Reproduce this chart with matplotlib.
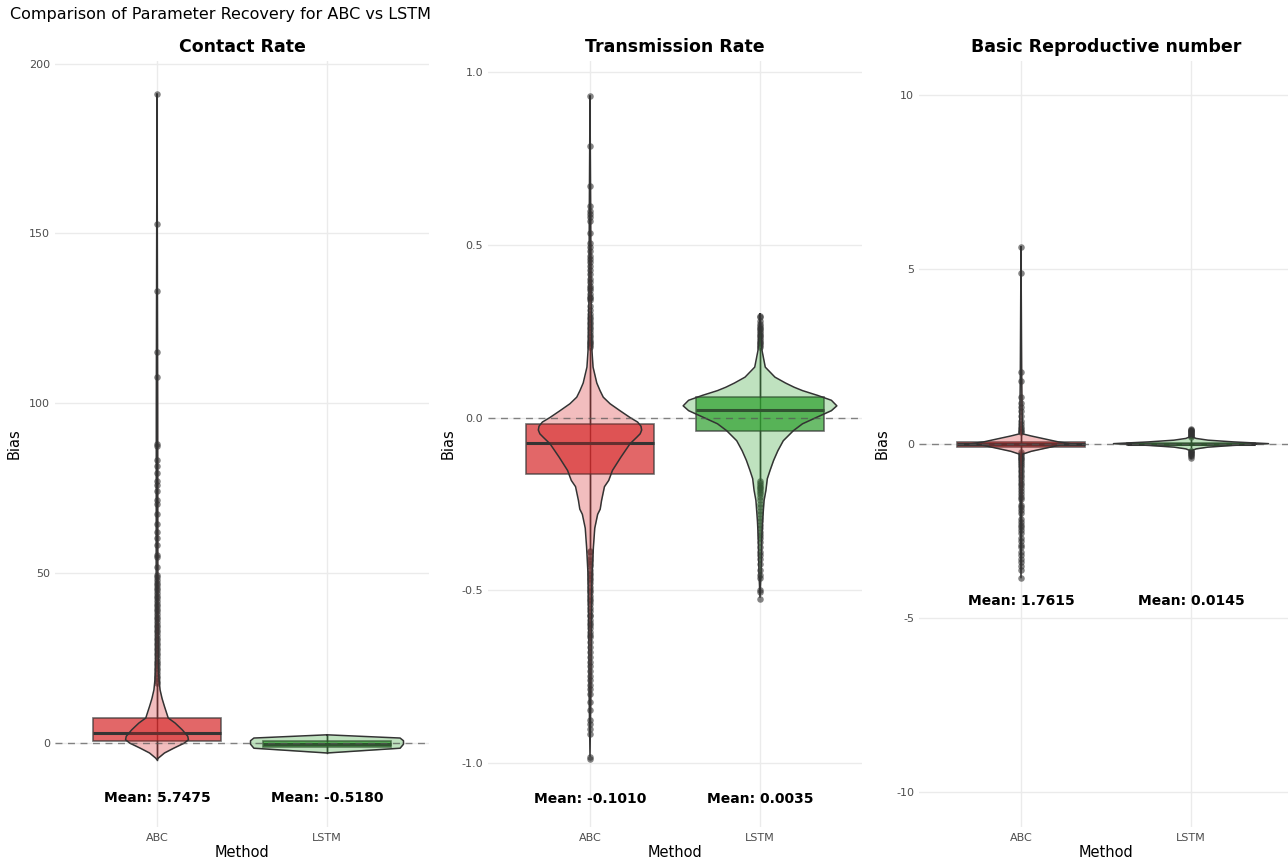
import numpy as np
import matplotlib.pyplot as plt

plt.rcParams['font.family'] = ['DejaVu Sans']
plt.rcParams['axes.unicode_minus'] = False

W, H = 1288, 859

methods = ['ABC', 'LSTM']
panel_titles = ['Contact Rate', 'Transmission Rate', 'Basic Reproductive number']
mean_labels = [['5.7475', '-0.5180'], ['-0.1010', '0.0035'], ['1.7615', '0.0145']]

# box stats per method: [whislo, q1, median, q3, whishi]
contact_box = [[-5.0, 0.4, 2.95, 7.2, 17.4], [-3.0, -1.3, -0.4, 0.6, 2.3]]
trans_box = [[-0.38, -0.163, -0.074, -0.018, 0.20], [-0.18, -0.038, 0.023, 0.059, 0.20]]
r0_box = [[-0.34, -0.10, 0.0, 0.057, 0.30], [-0.10, -0.025, 0.0, 0.03, 0.10]]

# violin outlines: values and half widths (category units)
contact_abc_vy = [191, 100, 40, 25, 21.5, 18.6, 15.6, 13, 10.7, 9, 7.3, 5.8, 3.8, 1.9, 0.9, -0.1, -1.6, -3.0, -4.5, -5.0]
contact_abc_vw = [0.0, 0.004, 0.005, 0.007, 0.009, 0.012, 0.018, 0.03, 0.044, 0.055, 0.066, 0.107, 0.149, 0.181, 0.185, 0.16, 0.098, 0.044, 0.008, 0.0]
contact_lstm_vy = [2.35, 1.4, 0.6, -0.4, -1.6, -3.0]
contact_lstm_vw = [0.0, 0.43, 0.45, 0.45, 0.43, 0.0]

trans_abc_vy = [0.93, 0.6, 0.35, 0.22, 0.19, 0.146, 0.1, 0.078, 0.059, 0.04, 0.02, 0.0, -0.013, -0.025, -0.036,
                -0.047, -0.057, -0.076, -0.115, -0.153, -0.182, -0.2, -0.24, -0.265, -0.28, -0.32, -0.375, -0.45,
                -0.6, -0.8, -0.98]
trans_abc_vw = [0.0, 0.004, 0.006, 0.009, 0.012, 0.018, 0.04, 0.059, 0.078, 0.118, 0.176, 0.236, 0.28, 0.3, 0.304,
                0.295, 0.275, 0.235, 0.181, 0.132, 0.11, 0.085, 0.068, 0.06, 0.045, 0.028, 0.02, 0.012,
                0.007, 0.005, 0.0]
trans_lstm_vy = [0.30, 0.22, 0.194, 0.146, 0.117, 0.1, 0.088, 0.078, 0.064, 0.05, 0.034, 0.02, 0.0, -0.018, -0.038,
                 -0.067, -0.096, -0.124, -0.153, -0.177, -0.21, -0.24, -0.3, -0.35, -0.45, -0.52]
trans_lstm_vw = [0.0, 0.008, 0.012, 0.031, 0.088, 0.15, 0.2, 0.25, 0.34, 0.42, 0.452, 0.42, 0.33, 0.25, 0.196,
                 0.137, 0.105, 0.08, 0.059, 0.043, 0.035, 0.024, 0.015, 0.01, 0.006, 0.0]

r0_abc_vy = [5.64, 2.0, 1.0, 0.5, 0.28, 0.22, 0.135, 0.05, 0.0, -0.05, -0.135, -0.22, -0.3, -0.6, -1.5, -3.85]
r0_abc_vw = [0.0, 0.004, 0.006, 0.008, 0.01, 0.06, 0.14, 0.22, 0.29, 0.22, 0.14, 0.06, 0.01, 0.008, 0.005, 0.0]
r0_lstm_vy = [0.42, 0.2, 0.15, 0.1, 0.05, 0.0, -0.05, -0.1, -0.15, -0.2, -0.43]
r0_lstm_vw = [0.0, 0.005, 0.03, 0.1, 0.25, 0.456, 0.25, 0.1, 0.03, 0.005, 0.0]

# outliers
contact_abc_out = [191, 152.9, 133.1, 115.0, 107.8, 87.9, 87.5, 83.4, 81.4, 79.5, 77.1, 75.8, 74.3, 71.5, 70.4,
                   67.3, 64.5, 62.2, 60.2, 58.2, 55.3, 54.6, 51.9, 49.5, 48.8, 48.0, 47.2, 46.5, 45.6, 44.9, 44.1,
                   43.2, 42.5, 41.8, 41.0, 40.2, 39.5, 38.7, 37.9, 37.1, 36.4, 35.6, 34.8, 34.1, 33.3, 32.6, 31.8,
                   31.0, 30.3, 29.5, 28.8, 28.0, 27.2, 26.5, 25.8, 25.0, 24.2, 23.5, 22.8, 22.0, 21.3, 20.5, 19.8,
                   19.0, 18.3, 17.6]
contact_lstm_out = []
trans_abc_out = [0.93, 0.787, 0.669, 0.611, 0.597, 0.588, 0.58, 0.568, 0.533, 0.505, 0.493, 0.481, 0.469, 0.459,
                 0.45, 0.44, 0.428, 0.415, 0.40, 0.392, 0.382, 0.375, 0.368, 0.358, 0.35, 0.345, 0.339, 0.324,
                 0.312, 0.30, 0.29, 0.285, 0.276, 0.27, 0.261, 0.255, 0.247, 0.24, 0.232, 0.225, 0.218, 0.215,
                 0.21, 0.205,
                 -0.385, -0.39, -0.40, -0.41, -0.415, -0.425, -0.43, -0.44, -0.45, -0.455, -0.465, -0.47, -0.48,
                 -0.49, -0.5, -0.505, -0.515, -0.525, -0.53, -0.54, -0.55, -0.56, -0.57, -0.575, -0.585, -0.595,
                 -0.6, -0.61, -0.62, -0.63, -0.636, -0.650, -0.665, -0.679, -0.694, -0.708, -0.718, -0.734, -0.747,
                 -0.759, -0.773, -0.785, -0.80, -0.822, -0.846, -0.875, -0.887, -0.901, -0.916, -0.981, -0.989]
trans_lstm_out = [0.205, 0.21, 0.215, 0.22, 0.225, 0.23, 0.235, 0.24, 0.245, 0.25, 0.255, 0.26, 0.265, 0.27, 0.28,
                  0.29, 0.295,
                  -0.185, -0.19, -0.195, -0.2, -0.205, -0.21, -0.215, -0.22, -0.23, -0.24, -0.25, -0.26, -0.27,
                  -0.28, -0.29, -0.3, -0.31, -0.32, -0.33, -0.34, -0.35, -0.36, -0.375, -0.39, -0.398, -0.41,
                  -0.423, -0.442, -0.456, -0.465, -0.50, -0.505, -0.524]
r0_abc_out = [5.64, 4.89, 2.07, 1.79, 1.35, 1.16, 1.05, 0.93, 0.78, 0.66, 0.55, 0.47, 0.42, 0.37, 0.33,
              -0.25, -0.3, -0.35, -0.4, -0.45, -0.5, -0.55, -0.6, -0.68, -0.75, -0.82, -0.9, -0.97, -1.05,
              -1.12, -1.2, -1.28, -1.36, -1.45, -1.52, -1.6, -1.75, -1.82, -1.9, -2.0, -2.15, -2.25, -2.32,
              -2.4, -2.48, -2.55, -2.7, -2.8, -2.9, -2.97, -3.1, -3.2, -3.3, -3.4, -3.5, -3.62, -3.85]
r0_lstm_out = [0.42, 0.4, 0.38, 0.36, 0.34, 0.32, 0.3, 0.28, 0.26, 0.24, 0.22, 0.2,
               -0.2, -0.22, -0.25, -0.28, -0.3, -0.33, -0.36, -0.4]

boxes = [contact_box, trans_box, r0_box]
violins = [[(contact_abc_vy, contact_abc_vw), (contact_lstm_vy, contact_lstm_vw)],
           [(trans_abc_vy, trans_abc_vw), (trans_lstm_vy, trans_lstm_vw)],
           [(r0_abc_vy, r0_abc_vw), (r0_lstm_vy, r0_lstm_vw)]]
outliers = [[contact_abc_out, contact_lstm_out], [trans_abc_out, trans_lstm_out], [r0_abc_out, r0_lstm_out]]

# layout
COLORS = ['#D62728', '#2CA02C']
EDGE = '#333333'
PANEL_LEFT = [55, 488, 919]
PANEL_W = 374
PANEL_TOP = 61
PANEL_BOTTOM = 827
YLIMS = [(-24.8, 200.8), (-1.185, 1.032), (-11.0, 10.98)]
YTICKS = [[0, 50, 100, 150, 200], [-1.0, -0.5, 0.0, 0.5, 1.0], [-10, -5, 0, 5, 10]]
YFMT = ['{:.0f}', '{:.1f}', '{:.0f}']
MEAN_Y = [-16.2, -1.103, -4.51]
YLABEL_X = [22, 456, 890]

fig = plt.figure(figsize=(W / 100, H / 100), dpi=100)
fig.text(10 / W, 1 - 14 / H, 'Comparison of Parameter Recovery for ABC vs LSTM', fontsize=11.5,
         va='center', ha='left')

for p in range(3):
    ax = fig.add_axes([PANEL_LEFT[p] / W, 1 - PANEL_BOTTOM / H, PANEL_W / W,
                       (PANEL_BOTTOM - PANEL_TOP) / H])
    ax.set_xlim(0.4, 2.6)
    ax.set_ylim(*YLIMS[p])
    for s in ax.spines.values():
        s.set_visible(False)
    ax.set_yticks(YTICKS[p])
    ax.set_yticklabels([YFMT[p].format(v) for v in YTICKS[p]])
    ax.set_xticks([1, 2])
    ax.set_xticklabels(methods)
    ax.tick_params(length=0, labelsize=8, labelcolor='#4D4D4D')
    ax.tick_params(axis='y', pad=3.6)
    ax.tick_params(axis='x', pad=4.5)
    ax.grid(True, color='#EBEBEB', lw=1.0, zorder=0)
    ax.set_axisbelow(True)

    for i in range(2):
        x = i + 1
        lo, q1, med, q3, hi = boxes[p][i]
        ax.vlines(x, lo, hi, color=EDGE, lw=1.0, zorder=2)
        out = outliers[p][i]
        if out:
            ax.scatter([x] * len(out), out, s=22, color=EDGE, alpha=0.6, lw=0, zorder=2.2)
        stats = [{'whislo': lo, 'q1': q1, 'med': med, 'q3': q3, 'whishi': hi}]
        ax.bxp(stats, positions=[x], widths=0.75, patch_artist=True, showfliers=False,
               showcaps=False, manage_ticks=False, zorder=3,
               boxprops=dict(facecolor=COLORS[i], alpha=0.7, edgecolor=EDGE, lw=1.2),
               medianprops=dict(color=EDGE, lw=2.2),
               whiskerprops=dict(color=EDGE, lw=1.0))
        vy = np.array(violins[p][i][0])
        vw = np.array(violins[p][i][1])
        ax.fill_betweenx(vy, x - vw, x + vw, color=COLORS[i], alpha=0.3, lw=0, zorder=3.5)
        ox = np.concatenate([x - vw, (x + vw)[::-1], [x - vw[0]]])
        oy = np.concatenate([vy, vy[::-1], [vy[0]]])
        ax.plot(ox, oy, color=EDGE, lw=1.1, zorder=3.6)
        ax.text(x, MEAN_Y[p], 'Mean: ' + mean_labels[p][i], ha='center', va='center',
                fontsize=10, fontweight='bold', color='black', zorder=5)

    ax.axhline(0, color='#555555', lw=1.0, ls=(0, (5, 4)), alpha=0.7, zorder=4)
    ax.set_title(panel_titles[p], fontsize=12.5, fontweight='bold', pad=6.5)
    ax.set_xlabel('Method', fontsize=10.5)
    ax.xaxis.set_label_coords(0.5, -(845 - PANEL_BOTTOM) / (PANEL_BOTTOM - PANEL_TOP))
    ax.set_ylabel('Bias', fontsize=10.5)
    ax.yaxis.set_label_coords((YLABEL_X[p] - PANEL_LEFT[p]) / PANEL_W, 0.5)

fig.savefig('out.png', dpi=100)
